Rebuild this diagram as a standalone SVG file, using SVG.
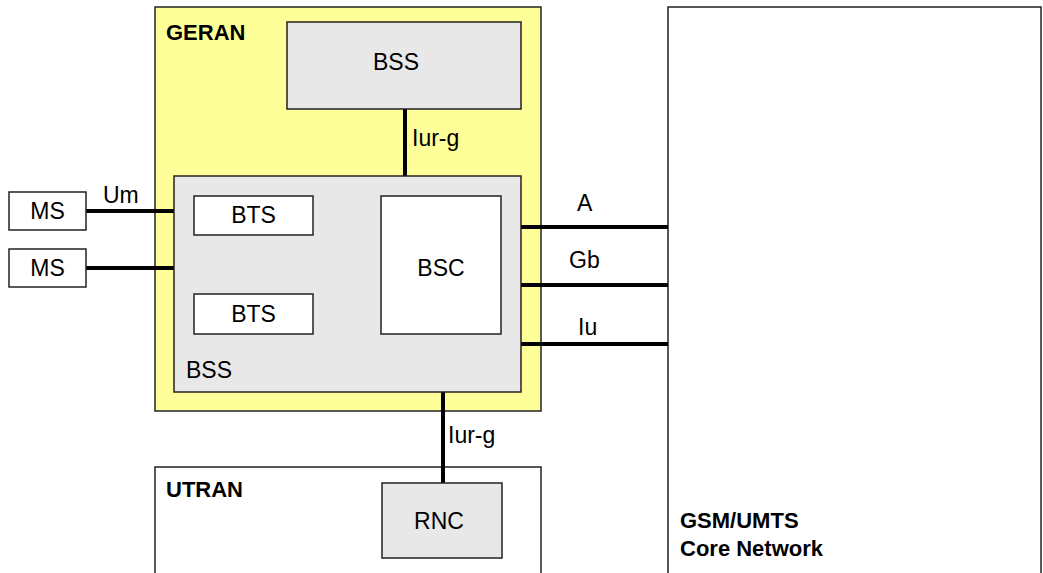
<svg xmlns="http://www.w3.org/2000/svg" width="1043" height="573" viewBox="0 0 1043 573">
<style>
text{font-family:"Liberation Sans",Arial,sans-serif;font-size:23px;fill:#000}
.b{font-weight:bold;font-size:22px}
.c{text-anchor:middle}
.box{stroke:#222;stroke-width:1.5}
.w{fill:#fff}
.g{fill:#e8e8e8}
.y{fill:#ffff99}
.ln{stroke:#000;stroke-width:4;fill:none}
</style>
<rect width="1043" height="573" fill="#fff"/>
<g id="core"><rect class="box w" x="668" y="7" width="373" height="580"/><text class="b" x="680" y="528">GSM/UMTS</text><text class="b" x="680" y="556">Core Network</text></g>
<g id="geran"><rect class="box y" x="155" y="7" width="386" height="404"/><text class="b" x="166" y="40">GERAN</text></g>
<g id="utran"><rect class="box w" x="155" y="467" width="386" height="120"/><text class="b" x="166" y="497">UTRAN</text></g>
<g id="connectors">
<line class="ln" x1="86" y1="211" x2="174" y2="211"/>
<line class="ln" x1="86" y1="268" x2="174" y2="268"/>
<line class="ln" x1="405" y1="109" x2="405" y2="176"/>
<line class="ln" x1="443" y1="392" x2="443" y2="483"/>
<line class="ln" x1="521" y1="227" x2="668" y2="227"/>
<line class="ln" x1="521" y1="285" x2="668" y2="285"/>
<line class="ln" x1="521" y1="344" x2="668" y2="344"/>
<polyline class="ln" points="313,215 381,265 313,313"/>
<text x="103" y="203">Um</text>
<text x="412" y="146">Iur-g</text>
<text x="448" y="443">Iur-g</text>
<text x="577" y="211">A</text>
<text x="569" y="268">Gb</text>
<text x="578" y="335">Iu</text>
</g>
<g id="bss-top"><rect class="box g" x="287" y="22" width="234" height="87"/><text class="c" x="396" y="70">BSS</text></g>
<g id="bss"><rect class="box g" x="174" y="176" width="347" height="216"/><text x="186" y="378">BSS</text></g>
<g id="bts1"><rect class="box w" x="194" y="196" width="119" height="39"/><text class="c" x="253.5" y="223">BTS</text></g>
<g id="bts2"><rect class="box w" x="194" y="294" width="119" height="40"/><text class="c" x="253.5" y="322">BTS</text></g>
<g id="bsc"><rect class="box w" x="381" y="196" width="120" height="138"/><text class="c" x="441" y="276">BSC</text></g>
<g id="ms1"><rect class="box w" x="9" y="192" width="77" height="38"/><text class="c" x="47.5" y="219">MS</text></g>
<g id="ms2"><rect class="box w" x="9" y="249" width="77" height="38"/><text class="c" x="47.5" y="276">MS</text></g>
<g id="rnc"><rect class="box g" x="382" y="483" width="120" height="75"/><text class="c" x="439" y="529">RNC</text></g>
</svg>
